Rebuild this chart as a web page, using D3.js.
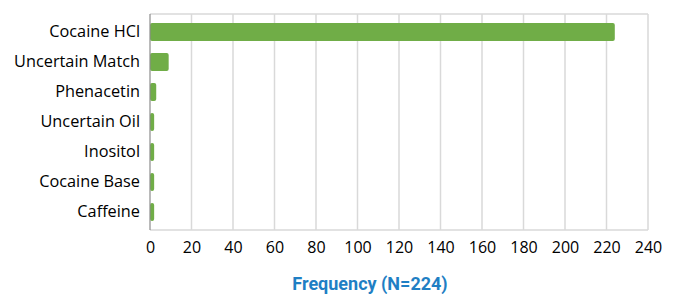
<!DOCTYPE html>
<html>
<head>
<meta charset="utf-8">
<script src="https://cdn.jsdelivr.net/npm/d3@7"></script>
<style>
  body { margin: 0; background: #fff; }
  svg { display: block; }
</style>
</head>
<body>
<svg id="chart" width="678" height="294"></svg>
<script>
// substances found in the samples
var substances = ["Cocaine HCl", "Uncertain Match", "Phenacetin", "Uncertain Oil", "Inositol", "Cocaine Base", "Caffeine"];
var frequency = [224, 9, 3, 2, 2, 2, 2];
var xTicks = [0, 20, 40, 60, 80, 100, 120, 140, 160, 180, 200, 220, 240];
var axisTitle = "Frequency (N=224)";

var svg = d3.select("#chart");
var margin = {top: 14, right: 30, bottom: 64, left: 150};
var width = 678 - margin.left - margin.right,
    height = 294 - margin.top - margin.bottom;

var x = d3.scaleLinear().domain([0, 240]).range([0, width]);
var y = d3.scaleBand().domain(substances).range([0, height]).paddingInner(0.4).paddingOuter(0.3);

var g = svg.append("g").attr("transform", "translate(" + margin.left + "," + margin.top + ")");

// gridlines
g.append("g")
    .attr("class", "grid")
    .selectAll("line")
    .data(xTicks.slice(1))
    .enter()
    .append("line")
    .attr("x1", function(d) { return x(d); })
    .attr("x2", function(d) { return x(d); })
    .attr("y1", 0)
    .attr("y2", height)
    .attr("stroke", "#d9d9d9")
    .attr("stroke-width", 1.5);

// top and bottom border
g.append("line").attr("x1", 0).attr("x2", width).attr("y1", 0).attr("y2", 0)
    .attr("stroke", "#d9d9d9").attr("stroke-width", 1.5);
g.append("line").attr("x1", 0).attr("x2", width).attr("y1", height).attr("y2", height)
    .attr("stroke", "#d9d9d9").attr("stroke-width", 1.5);

// bars
g.selectAll(".bar")
    .data(substances)
    .enter()
    .append("rect")
    .attr("class", "bar")
    .attr("x", 0)
    .attr("y", function(d) { return y(d); })
    .attr("width", function(d, i) { return x(frequency[i]); })
    .attr("height", y.bandwidth())
    .attr("rx", 2)
    .attr("fill", "#70ad47");

// left axis line
g.append("line").attr("x1", 0).attr("x2", 0).attr("y1", 0).attr("y2", height)
    .attr("stroke", "#8c8c8c").attr("stroke-width", 1.2);

// category labels
var yAxis = d3.axisLeft(y).tickSize(0).tickPadding(10);
g.append("g")
    .call(yAxis)
    .call(function(a) { a.select(".domain").remove(); })
    .selectAll("text")
    .attr("font-family", "Open Sans, sans-serif")
    .attr("font-size", "16.3px")
    .attr("fill", "#000");

// value ticks
var xAxis = d3.axisBottom(x).tickValues(xTicks).tickSize(0).tickPadding(12);
g.append("g")
    .attr("transform", "translate(0," + height + ")")
    .call(xAxis)
    .call(function(a) { a.select(".domain").remove(); })
    .selectAll("text")
    .attr("font-family", "Open Sans, sans-serif")
    .attr("font-size", "16px")
    .attr("fill", "#000");

// axis title
svg.append("text")
    .attr("x", 370)
    .attr("y", 290)
    .attr("text-anchor", "middle")
    .attr("font-family", "Roboto, sans-serif")
    .attr("font-weight", "bold")
    .attr("font-size", "18px")
    .attr("fill", "#1f7fc4")
    .text(axisTitle);
</script>
</body>
</html>
